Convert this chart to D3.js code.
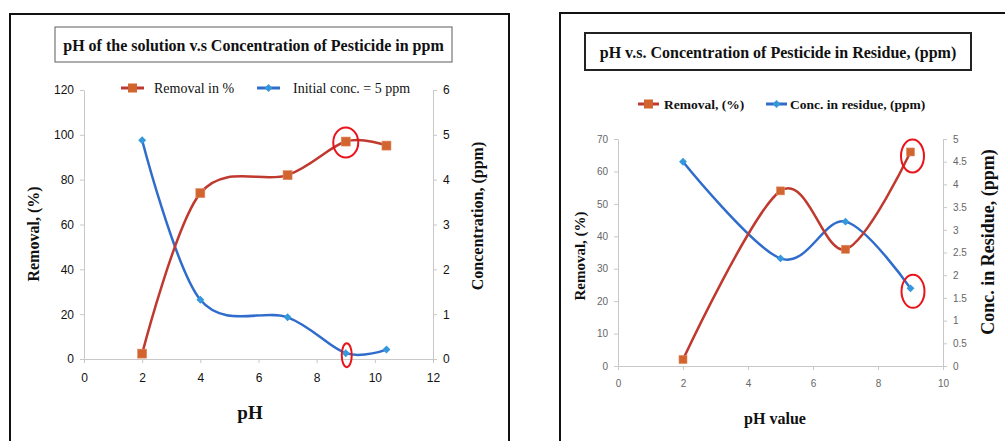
<!DOCTYPE html>
<html>
<head>
<meta charset="utf-8">
<script src="https://cdn.jsdelivr.net/npm/d3@7"></script>
<style>
  body { margin: 0; background: #fff; }
  svg { display: block; }
  .serif { font-family: "Liberation Serif", "Times New Roman", serif; }
  .tick text { font-family: "Liberation Sans", Arial, sans-serif; }
</style>
</head>
<body>
<div id="chart"></div>
<script>
// ---- data: left chart (initial solution) ----
const phLeft = [2, 4, 7, 9, 10.4];
const removalLeft = [2.4, 74, 82, 97, 95.2];
const concLeft = [4.88, 1.32, 0.93, 0.13, 0.21];

// ---- data: right chart (residue) ----
const phRight = [2, 5, 7, 9];
const removalRight = [2, 54, 36, 66];
const concRight = [4.5, 2.37, 3.18, 1.71];

const RED = "#c0392f";
const RED_MARK = "#d2652f";
const BLUE = "#2f6ccb";
const BLUE_MARK = "#3598dc";

const svg = d3.select("#chart")
  .append("svg")
  .attr("width", 1005)
  .attr("height", 441);

// outer frames
svg.append("rect").attr("x", 10).attr("y", 14).attr("width", 499).attr("height", 440)
  .attr("fill", "none").attr("stroke", "#111").attr("stroke-width", 2);
svg.append("rect").attr("x", 560).attr("y", 13).attr("width", 460).attr("height", 440)
  .attr("fill", "none").attr("stroke", "#111").attr("stroke-width", 2);

function drawPanel(cfg) {
  const x = d3.scaleLinear().domain(cfg.xDomain).range([cfg.x0, cfg.x1]);
  const yL = d3.scaleLinear().domain(cfg.yLDomain).range([cfg.yBottom, cfg.yTop]);
  const yR = d3.scaleLinear().domain(cfg.yRDomain).range([cfg.yBottom, cfg.yTop]);

  // title box
  svg.append("rect")
    .attr("x", cfg.titleBox[0]).attr("y", cfg.titleBox[1])
    .attr("width", cfg.titleBox[2]).attr("height", cfg.titleBox[3])
    .attr("fill", "#fff").attr("stroke", cfg.titleStroke).attr("stroke-width", cfg.titleStrokeW);
  svg.append("text").attr("class", "serif")
    .attr("x", cfg.titleBox[0] + cfg.titleBox[2] / 2)
    .attr("y", cfg.titleBox[1] + cfg.titleBox[3] / 2 + 6)
    .attr("text-anchor", "middle")
    .attr("font-size", 16).attr("font-weight", "bold").attr("fill", "#111")
    .text(cfg.title);

  const styleAxis = (g) => {
    g.select(".domain").attr("stroke", "#c8c8c8");
    g.selectAll(".tick line").attr("stroke", "#c8c8c8");
    g.selectAll(".tick text").attr("fill", cfg.tickColor).attr("font-size", cfg.tickSize);
  };

  svg.append("g")
    .attr("transform", `translate(0,${cfg.yBottom})`)
    .call(d3.axisBottom(x).tickValues(cfg.xTicks).tickSize(4).tickSizeOuter(0).tickPadding(10))
    .call(styleAxis);
  svg.append("g")
    .attr("transform", `translate(${cfg.x0},0)`)
    .call(d3.axisLeft(yL).tickValues(cfg.yLTicks).tickSize(4).tickSizeOuter(0).tickPadding(6))
    .call(styleAxis);
  svg.append("g")
    .attr("transform", `translate(${cfg.x1},0)`)
    .call(d3.axisRight(yR).tickValues(cfg.yRTicks).tickSize(4).tickSizeOuter(0).tickPadding(6)
      .tickFormat(d3.format("~g")))
    .call(styleAxis);

  const line = (ys, yScale) => d3.line()
    .x((d, i) => x(cfg.ph[i]))
    .y(d => yScale(d))
    .curve(d3.curveCardinal.tension(0))(ys);

  svg.append("path").attr("d", line(cfg.conc, yR))
    .attr("fill", "none").attr("stroke", BLUE).attr("stroke-width", 2.5);
  svg.append("path").attr("d", line(cfg.removal, yL))
    .attr("fill", "none").attr("stroke", RED).attr("stroke-width", 2.5);

  const diamond = d3.symbol().type(d3.symbolDiamond2).size(40);
  svg.append("g").selectAll("path")
    .data(cfg.conc)
    .join("path")
    .attr("d", diamond)
    .attr("transform", (d, i) => `translate(${x(cfg.ph[i])},${yR(d)})`)
    .attr("fill", BLUE_MARK);

  svg.append("g").selectAll("rect")
    .data(cfg.removal)
    .join("rect")
    .attr("x", (d, i) => x(cfg.ph[i]) - cfg.sq / 2)
    .attr("y", d => yL(d) - cfg.sq / 2)
    .attr("width", cfg.sq).attr("height", cfg.sq)
    .attr("fill", RED_MARK).attr("stroke", "#e08a60").attr("stroke-width", 0.6);

  // highlight ellipses
  cfg.circles.forEach(c => {
    const yS = c.axis === "L" ? yL : yR;
    svg.append("ellipse")
      .attr("cx", x(c.x) + c.dx).attr("cy", yS(c.y) + c.dy)
      .attr("rx", c.rx).attr("ry", c.ry)
      .attr("fill", "none").attr("stroke", "#e8141a").attr("stroke-width", 2);
  });

  // legend
  const lg = cfg.legend;
  svg.append("line").attr("x1", lg.rx).attr("x2", lg.rx + lg.w).attr("y1", lg.y).attr("y2", lg.y)
    .attr("stroke", RED).attr("stroke-width", 3);
  svg.append("rect").attr("x", lg.rx + lg.w / 2 - 4.5).attr("y", lg.y - 4.5).attr("width", 9).attr("height", 9)
    .attr("fill", RED_MARK);
  svg.append("text").attr("class", "serif").attr("x", lg.rt).attr("y", lg.y + 5)
    .attr("font-size", lg.size).attr("font-weight", lg.weight).attr("fill", "#111").text(lg.redText);
  svg.append("line").attr("x1", lg.bx).attr("x2", lg.bx + lg.w).attr("y1", lg.y).attr("y2", lg.y)
    .attr("stroke", BLUE).attr("stroke-width", 3);
  svg.append("path").attr("d", diamond)
    .attr("transform", `translate(${lg.bx + lg.w / 2},${lg.y})`).attr("fill", BLUE_MARK);
  svg.append("text").attr("class", "serif").attr("x", lg.bt).attr("y", lg.y + 5)
    .attr("font-size", lg.size).attr("font-weight", lg.weight).attr("fill", "#111").text(lg.blueText);

  // axis titles
  svg.append("text").attr("class", "serif")
    .attr("transform", `translate(${cfg.yLLabel[0]},${cfg.yLLabel[1]}) rotate(-90)`)
    .attr("text-anchor", "middle").attr("font-size", cfg.yLLabel[2]).attr("font-weight", "bold")
    .attr("fill", "#111").text(cfg.yLText);
  svg.append("text").attr("class", "serif")
    .attr("transform", `translate(${cfg.yRLabel[0]},${cfg.yRLabel[1]}) rotate(-90)`)
    .attr("text-anchor", "middle").attr("font-size", cfg.yRLabel[2]).attr("font-weight", "bold")
    .attr("fill", "#111").text(cfg.yRText);
  svg.append("text").attr("class", "serif")
    .attr("x", cfg.xLabel[0]).attr("y", cfg.xLabel[1])
    .attr("text-anchor", "middle").attr("font-size", cfg.xLabel[2]).attr("font-weight", "bold")
    .attr("fill", "#111").text(cfg.xText);
}

drawPanel({
  title: "pH of the solution v.s Concentration of Pesticide in ppm",
  titleBox: [55, 27, 397, 35], titleStroke: "#777", titleStrokeW: 1.2,
  x0: 84, x1: 433, yTop: 90, yBottom: 359,
  xDomain: [0, 12], yLDomain: [0, 120], yRDomain: [0, 6],
  xTicks: [0, 2, 4, 6, 8, 10, 12],
  yLTicks: [0, 20, 40, 60, 80, 100, 120],
  yRTicks: [0, 1, 2, 3, 4, 5, 6],
  tickColor: "#111", tickSize: 12,
  ph: phLeft, removal: removalLeft, conc: concLeft, sq: 9,
  circles: [
    { axis: "L", x: 9, y: 97, dx: 0, dy: 1, rx: 12.5, ry: 15 },
    { axis: "R", x: 9, y: 0.13, dx: 1, dy: 2, rx: 5, ry: 12 }
  ],
  legend: { y: 88, rx: 121, w: 23, rt: 154, bx: 257, bt: 293, size: 14, weight: "normal",
    redText: "Removal in %", blueText: "Initial conc. = 5 ppm" },
  yLLabel: [39, 234, 16], yLText: "Removal, (%)",
  yRLabel: [483, 216, 16], yRText: "Concentration, (ppm)",
  xLabel: [250, 419, 19], xText: "pH"
});

drawPanel({
  title: "pH v.s. Concentration of Pesticide in Residue, (ppm)",
  titleBox: [585, 33, 386, 37], titleStroke: "#222", titleStrokeW: 2,
  x0: 618, x1: 943, yTop: 139, yBottom: 366,
  xDomain: [0, 10], yLDomain: [0, 70], yRDomain: [0, 5],
  xTicks: [0, 2, 4, 6, 8, 10],
  yLTicks: [0, 10, 20, 30, 40, 50, 60, 70],
  yRTicks: [0, 0.5, 1, 1.5, 2, 2.5, 3, 3.5, 4, 4.5, 5],
  tickColor: "#666", tickSize: 10,
  ph: phRight, removal: removalRight, conc: concRight, sq: 8,
  circles: [
    { axis: "L", x: 9, y: 66, dx: 2, dy: 4, rx: 11.5, ry: 16.5 },
    { axis: "R", x: 9, y: 1.71, dx: 2.5, dy: 3, rx: 11.5, ry: 16.5 }
  ],
  legend: { y: 104, rx: 638, w: 21, rt: 664, bx: 766, bt: 790, size: 13.5, weight: "bold",
    redText: "Removal, (%)", blueText: "Conc. in residue, (ppm)" },
  yLLabel: [585, 256, 15], yLText: "Removal, (%)",
  yRLabel: [994, 242, 18], yRText: "Conc. in Residue, (ppm)",
  xLabel: [775, 424, 16], xText: "pH value"
});
</script>
</body>
</html>
